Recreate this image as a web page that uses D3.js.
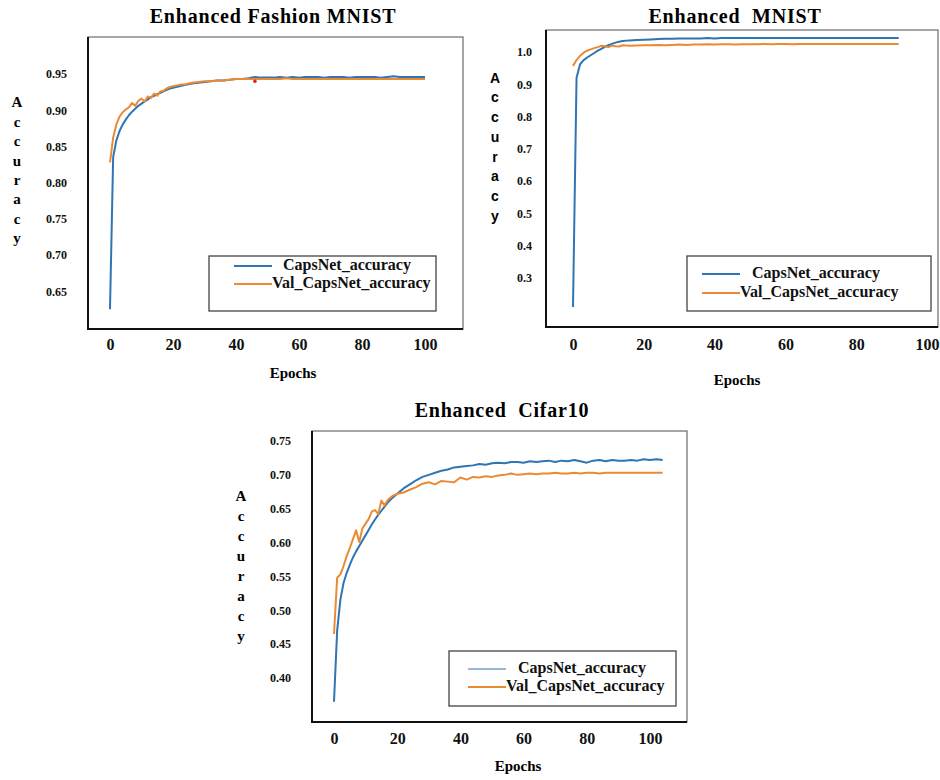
<!DOCTYPE html>
<html lang="en">
<head>
  <meta charset="UTF-8">
  <title>Enhanced CapsNet accuracy curves</title>
  <script src="https://d3js.org/d3.v7.min.js"></script>
  <style>
    body {
      margin: 0;
      padding: 0;
      background: #fff;
    }
    svg {
      display: block;
      font-family: "Liberation Serif", "Times New Roman", serif;
    }
    .tick text {
      fill: #111;
      font-weight: bold;
    }
  </style>
</head>
<body>
<div id="chart"></div>

<script>
  // ---- data ----
  const xTicks = [0, 20, 40, 60, 80, 100];
  const yLetters = "Accuracy".split("");

  // Enhanced Fashion MNIST
  const fashionEpochs = [0, 1, 2, 3, 4, 5, 6, 7, 8, 9, 10, 11, 12, 13, 14, 15, 16, 17, 18, 19, 20,
    22, 24, 26, 28, 30, 32, 34, 36, 38, 40, 42, 44, 46, 48, 50, 52, 54, 56, 58, 60,
    62, 64, 66, 68, 70, 72, 74, 76, 78, 80, 82, 84, 86, 88, 90, 92, 94, 96, 98, 100];
  const fashionTrain = [0.625, 0.835, 0.858, 0.871, 0.880, 0.887, 0.893, 0.898, 0.902, 0.906, 0.909,
    0.912, 0.915, 0.918, 0.920, 0.922, 0.924, 0.926, 0.928, 0.930, 0.931,
    0.933, 0.935, 0.937, 0.938, 0.939, 0.940, 0.941, 0.941, 0.942, 0.943,
    0.943, 0.944, 0.946, 0.945, 0.945, 0.945, 0.946, 0.945, 0.946, 0.945,
    0.946, 0.946, 0.946, 0.945, 0.946, 0.946, 0.946, 0.945, 0.946, 0.946,
    0.946, 0.946, 0.945, 0.946, 0.947, 0.946, 0.946, 0.946, 0.946, 0.946];
  const fashionVal = [0.828, 0.862, 0.880, 0.891, 0.897, 0.901, 0.904, 0.910, 0.906, 0.913, 0.916,
    0.912, 0.919, 0.917, 0.923, 0.920, 0.926, 0.927, 0.930, 0.932, 0.933,
    0.935, 0.936, 0.938, 0.939, 0.940, 0.940, 0.941, 0.941, 0.942, 0.943,
    0.943, 0.943, 0.943, 0.943, 0.943, 0.943, 0.943, 0.944, 0.943, 0.943,
    0.943, 0.943, 0.943, 0.943, 0.943, 0.943, 0.943, 0.943, 0.943, 0.943,
    0.943, 0.943, 0.943, 0.943, 0.943, 0.943, 0.943, 0.943, 0.943, 0.943];
  const fashionYTicks = [0.95, 0.90, 0.85, 0.80, 0.75, 0.70, 0.65];
  const fashionMarkEpoch = [46];
  const fashionMarkValue = [0.940];

  // Enhanced MNIST
  const mnistEpochs = [0, 1, 2, 3, 4, 5, 6, 7, 8, 9, 10, 11, 12, 13, 14,
    16, 18, 20, 22, 24, 26, 28, 30, 32, 34, 36, 38, 40, 42, 44, 46, 48, 50, 52, 54,
    56, 58, 60, 62, 64, 66, 68, 70, 72, 74, 76, 78, 80, 82, 84, 86, 88, 90, 92];
  const mnistTrain = [0.21, 0.92, 0.962, 0.975, 0.983, 0.990, 0.997, 1.004, 1.010, 1.016, 1.021,
    1.025, 1.029, 1.032, 1.034,
    1.036, 1.037, 1.038, 1.039, 1.040, 1.041, 1.041, 1.042, 1.042, 1.042,
    1.042, 1.043, 1.042, 1.043, 1.043, 1.043, 1.043, 1.043, 1.043, 1.043,
    1.043, 1.043, 1.043, 1.043, 1.043, 1.043, 1.043, 1.043, 1.043, 1.043,
    1.043, 1.043, 1.043, 1.043, 1.043, 1.043, 1.043, 1.043, 1.043];
  const mnistVal = [0.957, 0.975, 0.988, 0.998, 1.004, 1.008, 1.012, 1.015, 1.019, 1.018, 1.015,
    1.020, 1.018, 1.017, 1.021,
    1.019, 1.020, 1.021, 1.021, 1.022, 1.021, 1.022, 1.023, 1.022, 1.023,
    1.023, 1.024, 1.023, 1.024, 1.024, 1.023, 1.024, 1.024, 1.024, 1.025,
    1.024, 1.025, 1.025, 1.024, 1.025, 1.025, 1.025, 1.025, 1.025, 1.025,
    1.025, 1.025, 1.025, 1.025, 1.025, 1.025, 1.025, 1.025, 1.025];
  const mnistYTicks = [1.0, 0.9, 0.8, 0.7, 0.6, 0.5, 0.4, 0.3];

  // Enhanced Cifar10
  const cifarEpochs = [0, 1, 2, 3, 4, 5, 6, 7, 8, 9, 10, 11, 12, 13, 14, 15, 16, 17, 18, 19, 20,
    22, 24, 26, 28, 30, 32, 34, 36, 38, 40, 42, 44, 46, 48, 50, 52, 54, 56, 58, 60,
    62, 64, 66, 68, 70, 72, 74, 76, 78, 80, 82, 84, 86, 88, 90, 92, 94, 96, 98, 100, 102, 104];
  const cifarTrain = [0.365, 0.470, 0.515, 0.540, 0.555, 0.567, 0.578, 0.587, 0.595, 0.603, 0.611,
    0.619, 0.627, 0.634, 0.641, 0.647, 0.653, 0.659, 0.664, 0.668, 0.672,
    0.680, 0.686, 0.692, 0.697, 0.700, 0.703, 0.706, 0.708, 0.711, 0.712,
    0.713, 0.714, 0.716, 0.715, 0.717, 0.718, 0.717, 0.719, 0.719, 0.718,
    0.720, 0.719, 0.720, 0.721, 0.719, 0.721, 0.720, 0.722, 0.720, 0.718,
    0.721, 0.722, 0.720, 0.722, 0.721, 0.721, 0.722, 0.721, 0.723, 0.722, 0.723, 0.722];
  const cifarVal = [0.465, 0.548, 0.553, 0.565, 0.580, 0.592, 0.605, 0.618, 0.601, 0.621, 0.628,
    0.635, 0.646, 0.648, 0.642, 0.662, 0.655, 0.663, 0.667, 0.670, 0.672,
    0.674, 0.678, 0.682, 0.687, 0.689, 0.686, 0.691, 0.690, 0.689, 0.696,
    0.693, 0.697, 0.696, 0.698, 0.697, 0.699, 0.700, 0.702, 0.700, 0.701,
    0.702, 0.701, 0.702, 0.702, 0.703, 0.702, 0.702, 0.703, 0.702, 0.703,
    0.703, 0.702, 0.703, 0.703, 0.703, 0.703, 0.703, 0.703, 0.703, 0.703, 0.703, 0.703];
  const cifarYTicks = [0.75, 0.70, 0.65, 0.60, 0.55, 0.50, 0.45, 0.40];

  const seriesNames = ["CapsNet_accuracy", "Val_CapsNet_accuracy"];
  const blue = "#2f74b3";
  const orange = "#ec8a33";

  const svg = d3.select("#chart")
    .append("svg")
    .attr("width", 940)
    .attr("height", 780);

  svg.append("rect").attr("width", 940).attr("height", 780).attr("fill", "#fff");

  // one panel = frame + two curves + axes labels + legend
  function drawPanel(p) {
    const g = svg.append("g");
    const x = d3.scaleLinear().domain([0, 100]).range(p.xRange);
    const y = d3.scaleLinear().domain(p.yDomain).range(p.yRange);
    const [bx0, by0, bx1, by1] = p.box;

    // frame: light top/right, heavier left/bottom
    g.append("rect")
      .attr("x", bx0).attr("y", by0)
      .attr("width", bx1 - bx0).attr("height", by1 - by0)
      .attr("fill", "none")
      .attr("stroke", "#777")
      .attr("stroke-width", 1.3);
    g.append("path")
      .attr("d", `M${bx0},${by0}V${by1}H${bx1}`)
      .attr("fill", "none")
      .attr("stroke", "#111")
      .attr("stroke-width", 2);

    // title
    g.append("text")
      .attr("x", p.titlePos[0]).attr("y", p.titlePos[1])
      .attr("text-anchor", "middle")
      .attr("dominant-baseline", "middle")
      .style("font-size", "20px")
      .style("font-weight", "bold")
      .style("letter-spacing", "0.8px")
      .style("white-space", "pre")
      .text(p.title);

    // y tick labels, floating left of the frame
    const yAxis = g.append("g")
      .attr("transform", `translate(${p.yLabelRight},0)`)
      .call(d3.axisLeft(y).tickValues(p.yTicks).tickSize(0).tickPadding(0).tickFormat(d3.format(p.yFormat)));
    yAxis.select(".domain").remove();
    yAxis.selectAll("text").style("font-size", "12px").style("font-family", "Liberation Serif, serif");

    // x tick labels
    const xAxis = g.append("g")
      .attr("transform", `translate(0,${p.xLabelTop})`)
      .call(d3.axisBottom(x).tickValues(xTicks).tickSize(0).tickPadding(0).tickFormat(d3.format("d")));
    xAxis.select(".domain").remove();
    xAxis.selectAll("text").style("font-size", "16px").style("font-family", "Liberation Serif, serif");

    // axis titles
    g.append("text")
      .attr("x", p.epochsPos[0]).attr("y", p.epochsPos[1])
      .attr("text-anchor", "middle")
      .attr("dominant-baseline", "middle")
      .style("font-size", "15px")
      .style("font-weight", "bold")
      .text("Epochs");

    g.selectAll(".yletter")
      .data(yLetters)
      .enter()
      .append("text")
      .attr("class", "yletter")
      .attr("x", p.accPos[0])
      .attr("y", (d, i) => p.accPos[1] + i * p.accStep)
      .attr("text-anchor", "middle")
      .attr("dominant-baseline", "middle")
      .style("font-size", p.accFont === "sans" ? "14px" : "15px")
      .style("font-family", p.accFont === "sans" ? "Liberation Sans, Arial, sans-serif" : "Liberation Serif, serif")
      .style("font-weight", "bold")
      .text(d => d);

    // curves
    const line = d3.line().x(d => x(d[0])).y(d => y(d[1]));
    g.append("path")
      .datum(d3.zip(p.epochs, p.train))
      .attr("fill", "none")
      .attr("stroke", blue)
      .attr("stroke-width", 2)
      .attr("stroke-linejoin", "round")
      .attr("d", line);
    g.append("path")
      .datum(d3.zip(p.epochs, p.val))
      .attr("fill", "none")
      .attr("stroke", orange)
      .attr("stroke-width", 2)
      .attr("stroke-linejoin", "round")
      .attr("d", line);

    if (p.markEpoch) {
      g.selectAll(".mark")
        .data(d3.zip(p.markEpoch, p.markValue))
        .enter()
        .append("circle")
        .attr("class", "mark")
        .attr("cx", d => x(d[0]))
        .attr("cy", d => y(d[1]))
        .attr("r", 1.8)
        .attr("fill", "#d22");
    }

    // legend
    const L = p.legend;
    const lg = g.append("g");
    lg.append("rect")
      .attr("x", L.x0).attr("y", L.y0)
      .attr("width", L.x1 - L.x0).attr("height", L.y1 - L.y0)
      .attr("fill", "#fff")
      .attr("stroke", "#444")
      .attr("stroke-width", 1.3);
    const rows = [
      { name: seriesNames[0], color: blue, y: L.row1, tx: L.text1, w: p.thinBlueKey ? 1.2 : 2 },
      { name: seriesNames[1], color: orange, y: L.row2, tx: L.text2, w: 2 }
    ];
    rows.forEach(r => {
      lg.append("line")
        .attr("x1", L.keyX0).attr("x2", L.keyX1)
        .attr("y1", r.y).attr("y2", r.y)
        .attr("stroke", r.color)
        .attr("stroke-width", r.w);
      lg.append("text")
        .attr("x", r.tx).attr("y", r.y)
        .attr("dominant-baseline", "middle")
        .style("font-size", "16px")
        .style("font-weight", "bold")
        .style("fill", "#111")
        .text(r.name);
    });
  }

  drawPanel({
    title: "Enhanced Fashion MNIST", titlePos: [273, 18],
    epochs: fashionEpochs, train: fashionTrain, val: fashionVal,
    markEpoch: fashionMarkEpoch, markValue: fashionMarkValue,
    yTicks: fashionYTicks, yFormat: ".2f",
    xRange: [110, 425], yDomain: [0.95, 0.70], yRange: [74, 255],
    box: [88, 37, 463, 329],
    yLabelRight: 67, xLabelTop: 339,
    epochsPos: [293, 375],
    accPos: [17, 104], accStep: 19.4, accFont: "serif",
    legend: { x0: 209, y0: 256, x1: 436, y1: 311, row1: 266, row2: 284,
              keyX0: 234, keyX1: 272, text1: 283, text2: 272 }
  });

  drawPanel({
    title: "Enhanced  MNIST", titlePos: [735, 18],
    epochs: mnistEpochs, train: mnistTrain, val: mnistVal,
    yTicks: mnistYTicks, yFormat: ".1f",
    xRange: [573, 927], yDomain: [1.0, 0.3], yRange: [52, 278],
    box: [546, 30, 938, 327],
    yLabelRight: 532, xLabelTop: 339,
    epochsPos: [737, 382],
    accPos: [495, 79], accStep: 19.7, accFont: "sans",
    legend: { x0: 687, y0: 256, x1: 931, y1: 311, row1: 274, row2: 293,
              keyX0: 702, keyX1: 740, text1: 752, text2: 740 }
  });

  drawPanel({
    title: "Enhanced  Cifar10", titlePos: [502, 412],
    epochs: cifarEpochs, train: cifarTrain, val: cifarVal,
    yTicks: cifarYTicks, yFormat: ".2f",
    xRange: [334, 650], yDomain: [0.75, 0.40], yRange: [441, 678],
    box: [312, 431, 687, 722],
    yLabelRight: 291, xLabelTop: 733,
    epochsPos: [518, 768],
    accPos: [241, 498], accStep: 19.9, accFont: "serif",
    thinBlueKey: true,
    legend: { x0: 449, y0: 651, x1: 676, y1: 706, row1: 669, row2: 687,
              keyX0: 468, keyX1: 506, text1: 518, text2: 506 }
  });
</script>
</body>
</html>
